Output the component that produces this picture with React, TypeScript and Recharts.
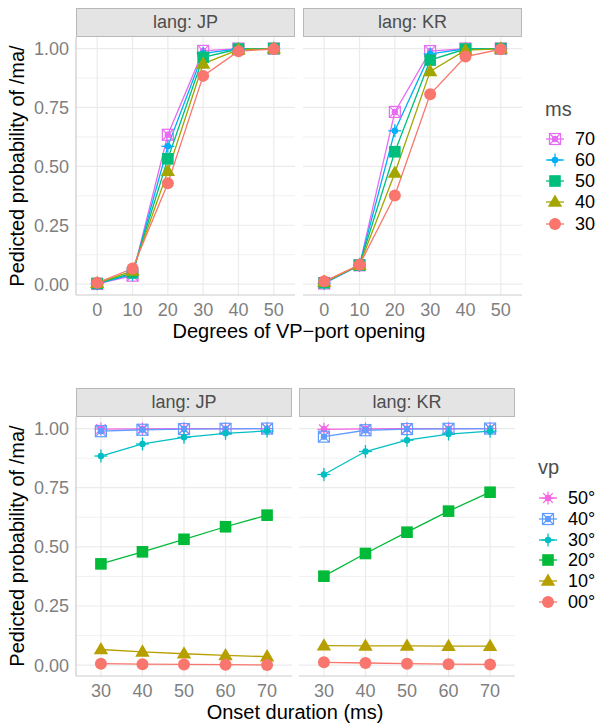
import React from "react";
import { LineChart, Line, XAxis, YAxis, CartesianGrid } from "recharts";

// degrees of VP-port opening and onset durations (ms)
const VP = [0, 10, 20, 30, 40, 50];
const MS = [30, 40, 50, 60, 70];
const VP_LABELS = ["00°", "10°", "20°", "30°", "40°", "50°"];
const Y_TICKS = [0, 0.25, 0.5, 0.75, 1];
const Y_MINOR = [0.125, 0.375, 0.625, 0.875];

// predicted probability of /ma/, one array per vp, values for ms 30..70
const JP_VP00 = [0.006, 0.004, 0.003, 0.002, 0.001];
const JP_VP10 = [0.066, 0.056, 0.048, 0.041, 0.036];
const JP_VP20 = [0.428, 0.479, 0.532, 0.585, 0.634];
const JP_VP30 = [0.884, 0.935, 0.963, 0.98, 0.99];
const JP_VP40 = [0.989, 0.995, 0.998, 0.999, 1.0];
const JP_VP50 = [0.998, 0.999, 1.0, 1.0, 1.0];

const KR_VP00 = [0.012, 0.009, 0.006, 0.004, 0.003];
const KR_VP10 = [0.082, 0.081, 0.081, 0.08, 0.08];
const KR_VP20 = [0.376, 0.472, 0.562, 0.651, 0.731];
const KR_VP30 = [0.806, 0.903, 0.951, 0.977, 0.989];
const KR_VP40 = [0.966, 0.993, 0.998, 0.999, 1.0];
const KR_VP50 = [0.997, 0.999, 1.0, 1.0, 1.0];

const JP = [JP_VP00, JP_VP10, JP_VP20, JP_VP30, JP_VP40, JP_VP50];
const KR = [KR_VP00, KR_VP10, KR_VP20, KR_VP30, KR_VP40, KR_VP50];

const FONT = '"Liberation Sans", Arial, sans-serif';
const GRID = "#EBEBEB";
const AXIS = "#CCCCCC";
const TICK = "#7F7F7F";
const Y_DOMAIN: [number, number] = [-0.046, 1.049];

type Shape = "circle" | "triangle" | "square" | "plus" | "boxx" | "star";
type Series = { key: string; label: string; color: string; shape: Shape };

// legend order (drawn in this order too, so the first one ends up underneath)
const MS_SERIES: Series[] = [
  { key: "ms70", label: "70", color: "#E76BF3", shape: "boxx" },
  { key: "ms60", label: "60", color: "#00B0F6", shape: "plus" },
  { key: "ms50", label: "50", color: "#00BF7D", shape: "square" },
  { key: "ms40", label: "40", color: "#A3A500", shape: "triangle" },
  { key: "ms30", label: "30", color: "#F8766D", shape: "circle" },
];
const VP_SERIES: Series[] = [
  { key: "vp50", label: VP_LABELS[5], color: "#F564E3", shape: "star" },
  { key: "vp40", label: VP_LABELS[4], color: "#619CFF", shape: "boxx" },
  { key: "vp30", label: VP_LABELS[3], color: "#00BFC4", shape: "plus" },
  { key: "vp20", label: VP_LABELS[2], color: "#00BA38", shape: "square" },
  { key: "vp10", label: VP_LABELS[1], color: "#B79F00", shape: "triangle" },
  { key: "vp00", label: VP_LABELS[0], color: "#F8766D", shape: "circle" },
];

// x = vp, one column per ms
const byVp = (tab: number[][]) =>
  VP.map((v, i) => {
    const row: Record<string, number> = { x: v };
    MS.forEach((m, j) => (row["ms" + m] = tab[i][j]));
    return row;
  });
// x = ms, one column per vp
const byMs = (tab: number[][]) =>
  MS.map((m, j) => {
    const row: Record<string, number> = { x: m };
    VP.forEach((v, i) => (row["vp" + String(v).padStart(2, "0")] = tab[i][j]));
    return row;
  });

function Marker({ shape, color, cx, cy }: { shape: Shape; color: string; cx: number; cy: number }) {
  const a = 6.5;
  const dot = <circle cx={cx} cy={cy} r={2.6} fill={color} />;
  switch (shape) {
    case "circle":
      return <circle cx={cx} cy={cy} r={6} fill={color} />;
    case "triangle":
      return (
        <polygon
          points={`${cx},${cy - 7.5} ${cx - 7.2},${cy + 4.8} ${cx + 7.2},${cy + 4.8}`}
          fill={color}
        />
      );
    case "square":
      return <rect x={cx - 5.8} y={cy - 5.8} width={11.6} height={11.6} fill={color} />;
    case "plus":
      return (
        <g stroke={color} strokeWidth={1.3}>
          <line x1={cx - a} x2={cx + a} y1={cy} y2={cy} />
          <line x1={cx} x2={cx} y1={cy - a} y2={cy + a} />
          {dot}
        </g>
      );
    case "boxx":
      return (
        <g stroke={color} strokeWidth={1.2} fill="none">
          <rect x={cx - 5.5} y={cy - 5.5} width={11} height={11} />
          <line x1={cx - 5.5} x2={cx + 5.5} y1={cy - 5.5} y2={cy + 5.5} />
          <line x1={cx - 5.5} x2={cx + 5.5} y1={cy + 5.5} y2={cy - 5.5} />
          {dot}
        </g>
      );
    case "star":
      return (
        <g stroke={color} strokeWidth={1.2}>
          <line x1={cx - a} x2={cx + a} y1={cy} y2={cy} />
          <line x1={cx} x2={cx} y1={cy - a} y2={cy + a} />
          <line x1={cx - 4.8} x2={cx + 4.8} y1={cy - 4.8} y2={cy + 4.8} />
          <line x1={cx - 4.8} x2={cx + 4.8} y1={cy + 4.8} y2={cy - 4.8} />
          {dot}
        </g>
      );
  }
}

const dotFor = (s: Series) => (p: any) => {
  const k = `${s.key}-${p.index}`;
  if (p.cx == null || p.cy == null) return <g key={k} />;
  return (
    <g key={k}>
      <Marker shape={s.shape} color={s.color} cx={p.cx} cy={p.cy} />
    </g>
  );
};

type PanelProps = {
  rows: Record<string, number>[];
  series: Series[];
  xTicks: number[];
  xDomain: [number, number];
  left: number;
  top: number;
  w: number;
  h: number;
  showY: boolean;
  strip: string;
};

const Y_W = 76;

function Panel({ rows, series, xTicks, xDomain, left, top, w, h, showY, strip }: PanelProps) {
  const yw = showY ? Y_W : 0;
  return (
    <>
      <div
        style={{
          position: "absolute",
          left,
          top: top - 29,
          width: w,
          height: 29,
          boxSizing: "border-box",
          background: "#E4E4E4",
          border: "1px solid #B8B8B8",
          display: "flex",
          alignItems: "center",
          justifyContent: "center",
          fontSize: 18,
          color: "#4D4D4D",
        }}
      >
        {strip}
      </div>
      <div style={{ position: "absolute", left: left - yw, top }}>
        <LineChart
          width={w + yw}
          height={h + 34}
          data={rows}
          margin={{ top: 0, right: 0, bottom: 0, left: 0 }}
        >
          <CartesianGrid
            stroke={GRID}
            strokeWidth={0.7}
            vertical={false}
            horizontalValues={Y_MINOR}
          />
          <CartesianGrid
            stroke={GRID}
            strokeWidth={1.2}
            horizontalValues={Y_TICKS}
            verticalValues={xTicks}
          />
          <XAxis
            dataKey="x"
            type="number"
            domain={xDomain}
            ticks={xTicks}
            height={34}
            tickLine={false}
            tickSize={0}
            tickMargin={8}
            axisLine={{ stroke: AXIS, strokeWidth: 1.2 }}
            tick={{ fill: TICK, fontSize: 18, fontFamily: FONT }}
          />
          <YAxis
            type="number"
            domain={Y_DOMAIN}
            ticks={Y_TICKS}
            hide={!showY}
            width={Y_W}
            tickLine={false}
            tickSize={0}
            tickMargin={7}
            axisLine={{ stroke: AXIS, strokeWidth: 1.2 }}
            tickFormatter={(v: number) => v.toFixed(2)}
            tick={{ fill: TICK, fontSize: 18, fontFamily: FONT }}
          />
          {series.map((s) => (
            <Line
              key={s.key}
              type="linear"
              dataKey={s.key}
              stroke={s.color}
              strokeWidth={1.3}
              dot={dotFor(s)}
              activeDot={false}
              isAnimationActive={false}
            />
          ))}
        </LineChart>
      </div>
    </>
  );
}

// text placed by the centre of its cap height
function Label({ x, y, size, children, color = "#000", rotate = false }: any) {
  return (
    <div
      style={{
        position: "absolute",
        left: x,
        top: y,
        fontSize: size,
        lineHeight: `${size}px`,
        color,
        whiteSpace: "nowrap",
        transform: rotate
          ? "translate(-50%, -50%) rotate(-90deg)"
          : "translate(-50%, -49%)",
      }}
    >
      {children}
    </div>
  );
}

function Legend({ title, series, x, titleY, firstY, step }: any) {
  return (
    <>
      <div
        style={{
          position: "absolute",
          left: x,
          top: titleY - 13,
          fontSize: 20,
          lineHeight: "20px",
          color: "#4D4D4D",
        }}
      >
        {title}
      </div>
      {series.map((s: Series, i: number) => {
        const cy = firstY + i * step;
        return (
          <div key={s.key} style={{ position: "absolute", left: x, top: cy - 10, height: 20, display: "flex", alignItems: "center" }}>
            <svg width={20} height={20} style={{ marginLeft: 0 }}>
              <line x1={1} x2={19} y1={10} y2={10} stroke={s.color} strokeWidth={1.3} />
              <Marker shape={s.shape} color={s.color} cx={10} cy={10} />
            </svg>
            <span style={{ marginLeft: 10, fontSize: 18, lineHeight: "20px", color: "#000" }}>{s.label}</span>
          </div>
        );
      })}
    </>
  );
}

export default function App() {
  const jpTop = byVp(JP);
  const krTop = byVp(KR);
  const jpBot = byMs(JP);
  const krBot = byMs(KR);
  return (
    <div
      style={{
        position: "absolute",
        left: 0,
        top: 0,
        width: 601,
        height: 724,
        background: "#fff",
        fontFamily: FONT,
        overflow: "hidden",
      }}
    >
      {/* top row: x = vp opening, colour = ms */}
      <Panel rows={jpTop} series={MS_SERIES} xTicks={VP} xDomain={[-6, 56]} left={76} top={37} w={219} h={258} showY strip="lang: JP" />
      <Panel rows={krTop} series={MS_SERIES} xTicks={VP} xDomain={[-6, 56]} left={303} top={37} w={219} h={258} showY={false} strip="lang: KR" />
      <Label x={17} y={166} size={20} rotate>
        Pedicted probability of /ma/
      </Label>
      <Label x={299} y={331} size={20}>
        Degrees of VP−port opening
      </Label>
      <Legend title="ms" series={MS_SERIES} x={545} titleY={112} firstY={138.5} step={21.3} />

      {/* bottom row: x = onset duration, colour = vp */}
      <Panel rows={jpBot} series={VP_SERIES} xTicks={MS} xDomain={[24, 76]} left={76} top={417} w={216} h={259} showY strip="lang: JP" />
      <Panel rows={krBot} series={VP_SERIES} xTicks={MS} xDomain={[24, 76]} left={299} top={417} w={216} h={259} showY={false} strip="lang: KR" />
      <Label x={17} y={546} size={20} rotate>
        Pedicted probability of /ma/
      </Label>
      <Label x={295} y={712} size={20}>
        Onset duration (ms)
      </Label>
      <Legend title="vp" series={VP_SERIES} x={538} titleY={470} firstY={498} step={20.8} />
    </div>
  );
}
